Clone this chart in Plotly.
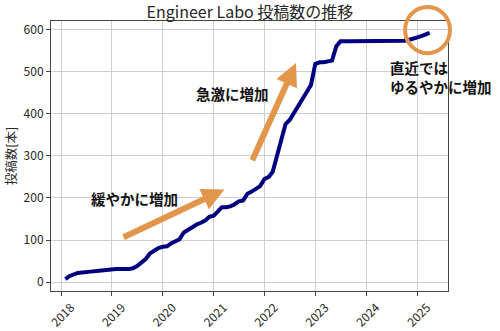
import plotly.graph_objects as go

# Monthly cumulative post counts
months = [
    "2018-02", "2018-03", "2018-05", "2018-07", "2018-08", "2018-10", "2018-12",
    "2019-02", "2019-05", "2019-06", "2019-07", "2019-08", "2019-09", "2019-10",
    "2019-11", "2019-12", "2020-01", "2020-02", "2020-03", "2020-04", "2020-05",
    "2020-06", "2020-07", "2020-08", "2020-09", "2020-10", "2020-11", "2020-12",
    "2021-01", "2021-02", "2021-03", "2021-04", "2021-05", "2021-06", "2021-07",
    "2021-08", "2021-09", "2021-10", "2021-11", "2021-12", "2022-01", "2022-02",
    "2022-03", "2022-04", "2022-05", "2022-06", "2022-07", "2022-08", "2022-09",
    "2022-10", "2022-11", "2022-12", "2023-01", "2023-02", "2023-03", "2023-04",
    "2023-05", "2023-06", "2023-07", "2023-09", "2023-12", "2024-03", "2024-06",
    "2024-08", "2024-10", "2024-11", "2025-01", "2025-02", "2025-04",
]
posts = [
    7, 14, 22, 23, 25, 27, 30,
    31, 31, 33, 38, 47, 55, 68,
    76, 81, 84, 85, 92, 98, 102,
    118, 124, 132, 137, 141, 146, 155,
    158, 168, 178, 178, 180, 185, 192,
    194, 210, 215, 222, 228, 245, 250,
    262, 300, 345, 375, 385, 402, 418,
    432, 450, 468, 518, 522, 522, 523,
    526, 560, 572, 572, 572, 572, 572,
    573, 573, 575, 580, 584, 592,
]

year_ticks = ["2018", "2019", "2020", "2021", "2022", "2023", "2024", "2025"]
value_ticks = [0, 100, 200, 300, 400, 500, 600]

title_text = "Engineer Labo 投稿数の推移"
y_title = "投稿数[本]"
note_slow = "緩やかに増加"
note_fast = "急激に増加"
note_recent_1 = "直近では"
note_recent_2 = "ゆるやかに増加"

FONT = "Noto Sans CJK JP"
ORANGE = "#e2964c"
NAVY = "#000080"
INK = "#262626"

fig = go.Figure()
fig.add_trace(go.Scatter(
    x=months, y=posts, mode="lines",
    line=dict(color=NAVY, width=4),
    hoverinfo="skip", showlegend=False,
))

axis_common = dict(
    showline=True, linecolor="#444444", linewidth=1, mirror=True,
    showgrid=True, gridcolor="#cfcfcf", gridwidth=1,
    ticks="outside", ticklen=4, tickcolor="#444444",
    zeroline=False, automargin=False,
)

fig.update_xaxes(
    type="date",
    range=["2017-10-21", "2025-08-11"],
    tickvals=[f"{y}-01-01" for y in year_ticks],
    ticktext=year_ticks,
    tickangle=-45,
    ticklabelshift=10,
    tickfont=dict(family=FONT, size=12, color=INK),
    **axis_common,
)
fig.update_yaxes(
    range=[-21, 620],
    tickvals=value_ticks,
    tickfont=dict(family=FONT, size=12, color=INK),
    title=dict(text=y_title, font=dict(family=FONT, size=12.5, color=INK), standoff=4),
    **axis_common,
)

# Trend arrows
arrow_style = dict(
    showarrow=True, arrowhead=2, arrowsize=0.75, arrowwidth=6,
    arrowcolor=ORANGE, text="", xref="x", yref="y", axref="x", ayref="y",
)
fig.add_annotation(x="2021-03-20", y=220, ax="2019-03-15", ay=105, **arrow_style)
fig.add_annotation(x="2022-08-15", y=520, ax="2021-10-01", ay=286, **arrow_style)

# Highlight of the recent period
fig.add_shape(
    type="circle", xref="paper", yref="paper",
    x0=0.892, x1=1.005, y0=0.881, y1=1.052,
    line=dict(color=ORANGE, width=4),
)

# Text notes, placed in paper coordinates of the plotting area
def px_to_paper(px, py):
    return (px - 51) / 397, (291 - py) / 270

text_font = dict(family=FONT, size=14.5, color="#111111")
notes = [
    (note_slow, 134, 198, "center"),
    (note_fast, 232, 93, "center"),
    (note_recent_1, 389, 67.5, "left"),
    (note_recent_2, 389, 86.5, "left"),
]
for txt, px, py, anchor in notes:
    x, y = px_to_paper(px, py)
    fig.add_annotation(x=x, y=y, text=f"<b>{txt}</b>", showarrow=False,
                       xref="paper", yref="paper", xanchor=anchor, yanchor="middle",
                       align="left", borderpad=0, font=text_font)

fig.update_layout(
    width=500, height=331,
    margin=dict(l=51, r=52, t=21, b=40),
    paper_bgcolor="white", plot_bgcolor="white",
    title=dict(text=title_text, x=0.5, xanchor="center", y=0.962, yanchor="middle",
               font=dict(family=FONT, size=16, color=INK)),
    font=dict(family=FONT),
)

fig.write_html("out.html")
